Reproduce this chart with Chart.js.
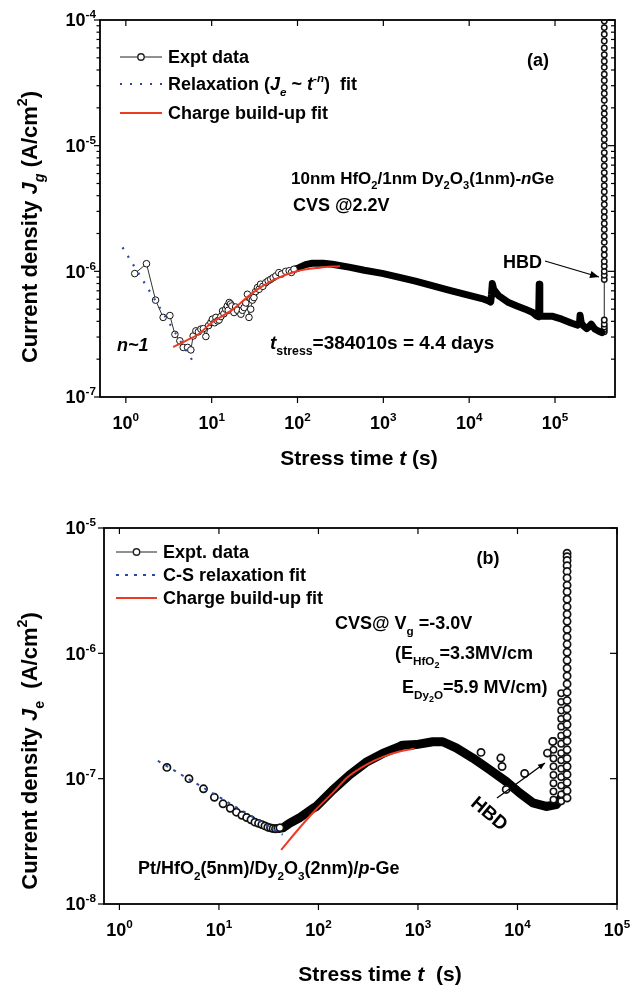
<!DOCTYPE html>
<html>
<head>
<meta charset="utf-8">
<script src="https://cdn.jsdelivr.net/npm/chart.js@4.4.1/dist/chart.umd.min.js"></script>
<style>
  html, body { margin: 0; padding: 0; background: #fff; }
  #wrap { position: relative; width: 631px; height: 986px; }
  canvas { position: absolute; left: 0; }
  #ca { top: 0; }
  #cb { top: 480px; }
</style>
</head>
<body>
<div id="wrap">
  <canvas id="ca" width="631" height="480"></canvas>
  <canvas id="cb" width="631" height="506"></canvas>
</div>
<script>
// ---- panel (a): 10nm HfO2/1nm Dy2O3 n-Ge, CVS 2.2 V ----
const aXExp = [0, 1, 2, 3, 4, 5];
const aYExp = [-7, -6, -5, -4];

// sparse early points (open circles)
const aExptT = [1.27, 1.74, 2.22, 2.72, 3.26, 3.73, 4.26, 4.66, 5.24, 5.72,
  6.09, 6.55, 7.0, 7.49, 8.0, 8.56, 9.2, 9.8, 10.2, 10.8,
  11.2, 11.7, 12.2, 12.8, 13.4, 13.9, 14.6, 15.2, 15.6, 16.0,
  16.6, 17.2, 18.2, 19.0, 20.0, 21.9, 22.8, 23.9, 25.0, 26.1,
  27.2, 28.5, 29.8, 31.1, 32.5, 34.2, 35.7, 37.2, 39.5, 42.7,
  45.5, 48.7, 52, 56, 60.6, 65, 72.8, 80, 85, 91];
const aExptJ = [9.6e-7, 1.15e-6, 5.9e-7, 4.3e-7, 4.45e-7, 3.15e-7, 2.8e-7, 2.48e-7, 2.48e-7, 2.37e-7,
  3.06e-7, 3.36e-7, 3.3e-7, 3.47e-7, 3.5e-7, 3.03e-7, 3.7e-7, 3.92e-7, 4.16e-7, 3.9e-7,
  4.3e-7, 4.03e-7, 4.1e-7, 4.37e-7, 4.84e-7, 4.6e-7, 5.0e-7, 5.3e-7, 4.9e-7, 5.65e-7,
  5.5e-7, 5.3e-7, 4.7e-7, 5.2e-7, 4.9e-7, 4.56e-7, 4.9e-7, 5.15e-7, 5.6e-7, 6.57e-7,
  4.3e-7, 5.0e-7, 5.9e-7, 6.18e-7, 6.9e-7, 7.43e-7, 7.2e-7, 7.9e-7, 7.6e-7, 8.13e-7,
  8.4e-7, 8.64e-7, 8.9e-7, 9.2e-7, 9.76e-7, 9.5e-7, 1.0e-6, 1.01e-6, 0.98e-6, 1.04e-6];

// dense part of the record (overlapping circles -> solid band)
const aBandT = [90, 104, 124, 149, 200, 254, 398, 600, 969, 1500,
  2366, 3700, 5780, 9000, 1.41e4, 1.69e4, 1.78e4, 1.82e4, 1.86e4, 1.93e4,
  2.2e4, 2.88e4, 3.6e4, 4.5e4, 5.5e4, 6.14e4, 6.45e4, 6.55e4, 6.65e4, 7.0e4,
  9.2e4, 1.2e5, 1.57e5, 1.84e5, 1.93e5, 1.96e5, 2.02e5, 2.14e5, 2.34e5, 2.5e5,
  2.64e5, 2.8e5, 2.93e5, 3.2e5, 3.5e5];
const aBandJ = [1.03e-6, 1.07e-6, 1.13e-6, 1.16e-6, 1.16e-6, 1.14e-6, 1.08e-6, 1.02e-6, 9.64e-7, 9.0e-7,
  8.37e-7, 7.7e-7, 7.1e-7, 6.55e-7, 6.07e-7, 5.8e-7, 5.7e-7, 6.5e-7, 8.0e-7, 7.2e-7,
  6.4e-7, 5.64e-7, 5.3e-7, 5.0e-7, 4.7e-7, 4.41e-7, 4.35e-7, 7.9e-7, 4.5e-7, 4.4e-7,
  4.4e-7, 4.16e-7, 3.86e-7, 3.73e-7, 3.9e-7, 4.47e-7, 3.9e-7, 3.68e-7, 3.5e-7, 3.65e-7,
  3.8e-7, 3.6e-7, 3.46e-7, 3.35e-7, 3.26e-7];

// hard breakdown column at t_stress
const aHbdT = 3.75e5;
const aHbdJ = [3.3e-7, 3.45e-7, 3.6e-7, 3.8e-7, 4.1e-7, 8.6e-7, 9.3e-7, 1.0e-6, 1.1e-6, 1.2e-6,
  1.35e-6, 1.5e-6, 1.7e-6, 1.9e-6, 2.15e-6, 2.4e-6, 2.7e-6, 3.0e-6, 3.4e-6, 3.8e-6,
  4.3e-6, 4.8e-6, 5.4e-6, 6.1e-6, 6.9e-6, 7.8e-6, 8.8e-6, 1.0e-5, 1.12e-5, 1.26e-5,
  1.42e-5, 1.6e-5, 1.8e-5, 2.0e-5, 2.3e-5, 2.6e-5, 2.9e-5, 3.3e-5, 3.7e-5, 4.2e-5,
  4.7e-5, 5.3e-5, 6.0e-5, 6.8e-5, 7.7e-5, 8.7e-5, 9.8e-5];

const aRelaxT = [0.915, 6.08];
const aRelaxJ = [1.55e-6, 1.91e-7];
const aChargeT = [3.56, 5, 7, 10, 17.8, 30.5, 52, 97.6, 182, 312];
const aChargeJ = [2.5e-7, 2.8e-7, 3.16e-7, 3.9e-7, 5.0e-7, 6.8e-7, 8.5e-7, 1.0e-6, 1.07e-6, 1.1e-6];

// ---- panel (b): Pt/HfO2/Dy2O3/p-Ge, CVS -3.0 V ----
const bXExp = [0, 1, 2, 3, 4, 5];
const bYExp = [-8, -7, -6, -5];

const bExptT = [3, 5, 7, 9, 11, 13, 15, 17, 19, 21, 23, 25, 27, 29, 31, 33, 35, 37, 39, 41];
const bExptJ = [1.23e-7, 1.0e-7, 8.3e-8, 7.1e-8, 6.3e-8, 5.8e-8, 5.4e-8, 5.1e-8, 4.9e-8, 4.7e-8,
  4.5e-8, 4.4e-8, 4.3e-8, 4.2e-8, 4.1e-8, 4.05e-8, 4.0e-8, 3.98e-8, 4.0e-8, 4.05e-8];

const bBandT = [39, 44, 51, 64, 88, 95, 139, 205, 301, 443,
  651, 700, 959, 1409, 1775, 2420, 3560, 5240, 7700, 1.05e4,
  1.43e4, 1.94e4, 2.45e4, 2.9e4];
const bBandJ = [4.0e-8, 4.05e-8, 4.4e-8, 4.85e-8, 5.8e-8, 6.0e-8, 8.1e-8, 1.07e-7, 1.35e-7, 1.59e-7,
  1.8e-7, 1.85e-7, 1.87e-7, 1.97e-7, 1.97e-7, 1.76e-7, 1.46e-7, 1.18e-7, 9.5e-8, 7.7e-8,
  6.4e-8, 6.0e-8, 6.2e-8, 7.5e-8];

const bOutT = [4300, 6800, 7000, 7700, 11800, 20000, 22600];
const bOutJ = [1.62e-7, 1.46e-7, 1.25e-7, 8.2e-8, 1.1e-7, 1.6e-7, 1.98e-7];

const bColT = [3.15e4, 2.75e4, 2.3e4];
const bCol1J = [6.3e-6, 5.9e-6, 5.5e-6, 5.0e-6, 4.5e-6, 4.0e-6, 3.5e-6, 3.1e-6, 2.7e-6, 2.35e-6,
  2.05e-6, 1.8e-6, 1.55e-6, 1.35e-6, 1.18e-6, 1.02e-6, 8.8e-7, 7.6e-7, 6.6e-7, 5.7e-7,
  4.9e-7, 4.2e-7, 3.6e-7, 3.1e-7, 2.7e-7, 2.3e-7, 2.0e-7, 1.7e-7, 1.45e-7, 1.25e-7,
  1.08e-7, 9.3e-8, 8.0e-8, 7.0e-8];
const bCol2J = [4.8e-7, 4.1e-7, 3.5e-7, 3.0e-7, 2.6e-7, 2.2e-7, 1.9e-7, 1.6e-7, 1.4e-7, 1.2e-7,
  1.03e-7, 8.8e-8, 7.5e-8, 6.6e-8];
const bCol3J = [2.0e-7, 1.7e-7, 1.45e-7, 1.25e-7, 1.07e-7, 9.2e-8, 7.9e-8, 6.8e-8];

const bRelaxT = [2.43, 43.8];
const bRelaxJ = [1.39e-7, 3.57e-8];
const bChargeT = [42.2, 64.4, 95, 139, 200, 301, 450, 651, 922];
const bChargeJ = [2.7e-8, 4.04e-8, 5.7e-8, 7.7e-8, 1.04e-7, 1.29e-7, 1.5e-7, 1.65e-7, 1.73e-7];

// ---- helpers ----
const RED = '#ef3a22';
const BLUE = '#2b4aa6';
const FF = '"Liberation Sans", Arial, Helvetica, sans-serif';
const MODES = {
  '': [1, 0, false], i: [1, 0, true],
  sub: [0.65, 0.3, false], isub: [0.65, 0.3, true],
  sup: [0.65, -0.45, false], isup: [0.65, -0.45, true],
  sub2: [0.5, 0.5, false]
};

const pts = (T, J) => T.map((t, i) => ({ x: t, y: J[i] }));
const col = (t, J) => J.map(j => ({ x: t, y: j }));

// draw text runs with italics / sub / superscripts; y is the middle of the caps
function rich(ctx, x, y, parts, size, align) {
  let w = 0;
  const segs = parts.map(([t, m = '']) => {
    const [k, dy, it] = MODES[m];
    const f = (it ? 'italic ' : '') + 'bold ' + (size * k).toFixed(1) + 'px ' + FF;
    ctx.font = f;
    const sw = ctx.measureText(t).width;
    w += sw;
    return { t, f, dy: dy * size, sw };
  });
  let cx = x - (align === 'center' ? w / 2 : align === 'right' ? w : 0);
  const base = y + 0.36 * size;
  ctx.textAlign = 'left';
  ctx.textBaseline = 'alphabetic';
  ctx.fillStyle = '#000';
  segs.forEach(s => { ctx.font = s.f; ctx.fillText(s.t, cx, base + s.dy); cx += s.sw; });
  return w;
}

function line(ctx, x1, y1, x2, y2) {
  ctx.beginPath(); ctx.moveTo(x1, y1); ctx.lineTo(x2, y2); ctx.stroke();
}

function arrow(ctx, x1, y1, x2, y2, head) {
  ctx.strokeStyle = '#000'; ctx.lineWidth = 1.3;
  line(ctx, x1, y1, x2, y2);
  const a = Math.atan2(y2 - y1, x2 - x1);
  ctx.beginPath();
  ctx.moveTo(x2, y2);
  ctx.lineTo(x2 - head * Math.cos(a) + head * 0.4 * Math.sin(a), y2 - head * Math.sin(a) - head * 0.4 * Math.cos(a));
  ctx.lineTo(x2 - head * Math.cos(a) - head * 0.4 * Math.sin(a), y2 - head * Math.sin(a) + head * 0.4 * Math.cos(a));
  ctx.closePath(); ctx.fillStyle = '#000'; ctx.fill();
}

function axes(chart, xExp, yExp, minor) {
  const { ctx, chartArea: a, scales: { x, y } } = chart;
  ctx.save();
  ctx.strokeStyle = '#000';
  ctx.lineWidth = 1.2;
  xExp.forEach(e => {
    const px = x.getPixelForValue(Math.pow(10, e));
    if (px < a.left - 1 || px > a.right + 1) return;
    line(ctx, px, a.bottom, px, a.bottom + 6);
    line(ctx, px, a.top, px, a.top + 6);
    const w = rich(ctx, -999, 0, [['10', ''], [String(e), 'sup']], 18, 'left');
    rich(ctx, px - w / 2, a.bottom + 26, [['10', ''], [String(e), 'sup']], 18, 'left');
  });
  yExp.forEach((e, k) => {
    const py = y.getPixelForValue(Math.pow(10, e));
    line(ctx, a.left - 6, py, a.left, py);
    line(ctx, a.right - 7, py, a.right, py);
    rich(ctx, 96, py, [['10', ''], [String(e), 'sup']], 18, 'right');
    if (minor && k < yExp.length - 1) {
      for (let m = 2; m <= 9; m++) {
        const pm = y.getPixelForValue(m * Math.pow(10, e));
        line(ctx, a.left - 3.5, pm, a.left, pm);
        line(ctx, a.right - 4, pm, a.right, pm);
      }
    }
  });
  ctx.lineWidth = 1.8;
  ctx.strokeRect(a.left, a.top, a.right - a.left, a.bottom - a.top);
  ctx.restore();
}

function legendRow(ctx, x1, x2, y, kind, text, size) {
  ctx.save();
  if (kind === 'expt') {
    ctx.strokeStyle = '#222'; ctx.lineWidth = 1;
    line(ctx, x1, y, x2, y);
    ctx.beginPath(); ctx.arc((x1 + x2) / 2, y, 3.2, 0, Math.PI * 2);
    ctx.fillStyle = '#fff'; ctx.fill(); ctx.lineWidth = 1.4; ctx.stroke();
  } else if (kind === 'dot') {
    ctx.strokeStyle = BLUE; ctx.lineWidth = 2.2; ctx.setLineDash([2, 8]);
    line(ctx, x1, y, x2, y);
  } else if (kind === 'dash') {
    ctx.strokeStyle = BLUE; ctx.lineWidth = 2; ctx.setLineDash([3, 6]);
    line(ctx, x1, y, x2, y);
  } else {
    ctx.strokeStyle = RED; ctx.lineWidth = 2.2;
    line(ctx, x1, y, x2, y);
  }
  ctx.restore();
  rich(ctx, x2 + 6, y, text, size, 'left');
}

function yTitle(ctx, xb, yc, parts, size) {
  ctx.save();
  ctx.translate(xb, yc);
  ctx.rotate(-Math.PI / 2);
  rich(ctx, 0, -0.36 * size, parts, size, 'center');
  ctx.restore();
}

function makeChart(id, pad, xr, yr, datasets, deco) {
  return new Chart(document.getElementById(id), {
    type: 'scatter',
    data: { datasets },
    options: {
      responsive: false,
      animation: false,
      devicePixelRatio: 1,
      events: [],
      layout: { padding: pad },
      plugins: { legend: { display: false }, tooltip: { enabled: false } },
      scales: {
        x: { type: 'logarithmic', display: false, min: xr[0], max: xr[1] },
        y: { type: 'logarithmic', display: false, min: yr[0], max: yr[1] }
      }
    },
    plugins: [{ id: 'deco', afterDraw: c => deco(c) }]
  });
}

const circle = (r, bw) => ({
  pointRadius: r, pointBackgroundColor: '#fff', pointBorderColor: '#111', pointBorderWidth: bw
});

// ---- chart (a) ----
makeChart('ca', { left: 100, right: 16, top: 20, bottom: 83 }, [0.5, 5e5], [1e-7, 1e-4], [
  { data: pts(aChargeT, aChargeJ), showLine: true, borderColor: RED, borderWidth: 2, pointRadius: 0, tension: 0.35 },
  { data: pts(aRelaxT, aRelaxJ), showLine: true, borderColor: BLUE, borderWidth: 2.2, borderDash: [2, 8], pointRadius: 0 },
  { data: pts(aExptT, aExptJ), showLine: true, borderColor: '#333', borderWidth: 1, ...circle(3.3, 1) },
  { data: pts(aBandT, aBandJ), showLine: true, borderColor: '#000', borderWidth: 7, pointRadius: 0,
    borderJoinStyle: 'round', borderCapStyle: 'round' },
  { data: col(aHbdT, aHbdJ), showLine: true, borderColor: '#222', borderWidth: 1, ...circle(2.7, 1.5) }
], chart => {
  const ctx = chart.ctx;
  axes(chart, aXExp, aYExp, true);
  yTitle(ctx, 37, 227, [['Current density ', ''], ['J', 'i'], ['g', 'isub'], [' (A/cm', ''], ['2', 'sup'], [')', '']], 22);
  rich(ctx, 359, 457, [['Stress time ', ''], ['t', 'i'], [' (s)', '']], 21, 'center');
  legendRow(ctx, 120, 162, 57, 'expt', [['Expt data', '']], 18);
  legendRow(ctx, 120, 162, 84, 'dot', [['Relaxation (', ''], ['J', 'i'], ['e', 'isub'], [' ~ ', ''], ['t', 'i'], ['-', 'sup'], ['n', 'isup'], [')  fit', '']], 18);
  legendRow(ctx, 120, 162, 113, 'red', [['Charge build-up fit', '']], 18);
  rich(ctx, 538, 60, [['(a)', '']], 18, 'center');
  rich(ctx, 291, 178, [['10nm HfO', ''], ['2', 'sub'], ['/1nm Dy', ''], ['2', 'sub'], ['O', ''], ['3', 'sub'],
    ['(1nm)-', ''], ['n', 'i'], ['Ge', '']], 17, 'left');
  rich(ctx, 293, 205, [['CVS @2.2V', '']], 18, 'left');
  rich(ctx, 503, 262, [['HBD', '']], 18, 'left');
  arrow(ctx, 545, 261, 599, 277, 9);
  rich(ctx, 117, 345, [['n~1', 'i']], 18, 'left');
  rich(ctx, 270, 342, [['t', 'i'], ['stress', 'sub'], ['=384010s = 4.4 days', '']], 19, 'left');
});

// ---- chart (b) ----
makeChart('cb', { left: 104, right: 14, top: 48, bottom: 82 }, [0.7, 1e5], [1e-8, 1e-5], [
  { data: pts(bChargeT, bChargeJ), showLine: true, borderColor: RED, borderWidth: 2, pointRadius: 0, tension: 0.35 },
  { data: pts(bRelaxT, bRelaxJ), showLine: true, borderColor: BLUE, borderWidth: 2, borderDash: [3, 6], pointRadius: 0 },
  { data: pts(bExptT, bExptJ), showLine: false, ...circle(3.6, 1.7) },
  { data: pts(bOutT, bOutJ), showLine: false, ...circle(3.6, 1.7) },
  { data: col(bColT[0], bCol1J), showLine: false, ...circle(3.6, 1.7) },
  { data: col(bColT[1], bCol2J), showLine: false, ...circle(3.2, 1.5) },
  { data: col(bColT[2], bCol3J), showLine: false, ...circle(3.2, 1.5) },
  { data: pts(bBandT, bBandJ), showLine: true, borderColor: '#000', borderWidth: 9, pointRadius: 0,
    borderJoinStyle: 'round', borderCapStyle: 'round' }
], chart => {
  const ctx = chart.ctx;
  axes(chart, bXExp, bYExp, false);
  yTitle(ctx, 37, 271, [['Current density ', ''], ['J', 'i'], ['e', 'sub'], ['  (A/cm', ''], ['2', 'sup'], [')', '']], 22);
  rich(ctx, 380, 493, [['Stress time ', ''], ['t', 'i'], ['  (s)', '']], 21, 'center');
  legendRow(ctx, 116, 157, 72, 'expt', [['Expt. data', '']], 18);
  legendRow(ctx, 116, 157, 95, 'dash', [['C-S relaxation fit', '']], 18);
  legendRow(ctx, 116, 157, 118, 'red', [['Charge build-up fit', '']], 18);
  rich(ctx, 488, 78, [['(b)', '']], 18, 'center');
  rich(ctx, 335, 143, [['CVS@ V', ''], ['g', 'sub'], [' =-3.0V', '']], 18, 'left');
  rich(ctx, 395, 173, [['(E', ''], ['HfO', 'sub'], ['2', 'sub2'], ['=3.3MV/cm', '']], 18, 'left');
  rich(ctx, 402, 207, [['E', ''], ['Dy', 'sub'], ['2', 'sub2'], ['O', 'sub'], ['=5.9 MV/cm)', '']], 18, 'left');
  rich(ctx, 138, 388, [['Pt/HfO', ''], ['2', 'sub'], ['(5nm)/Dy', ''], ['2', 'sub'], ['O', ''], ['3', 'sub'],
    ['(2nm)/', ''], ['p', 'i'], ['-Ge', '']], 18, 'left');
  arrow(ctx, 497, 318, 545, 283, 7);
  ctx.save();
  ctx.translate(490, 333);
  ctx.rotate(40 * Math.PI / 180);
  rich(ctx, 0, 0, [['HBD', '']], 19, 'center');
  ctx.restore();
});
</script>
</body>
</html>
